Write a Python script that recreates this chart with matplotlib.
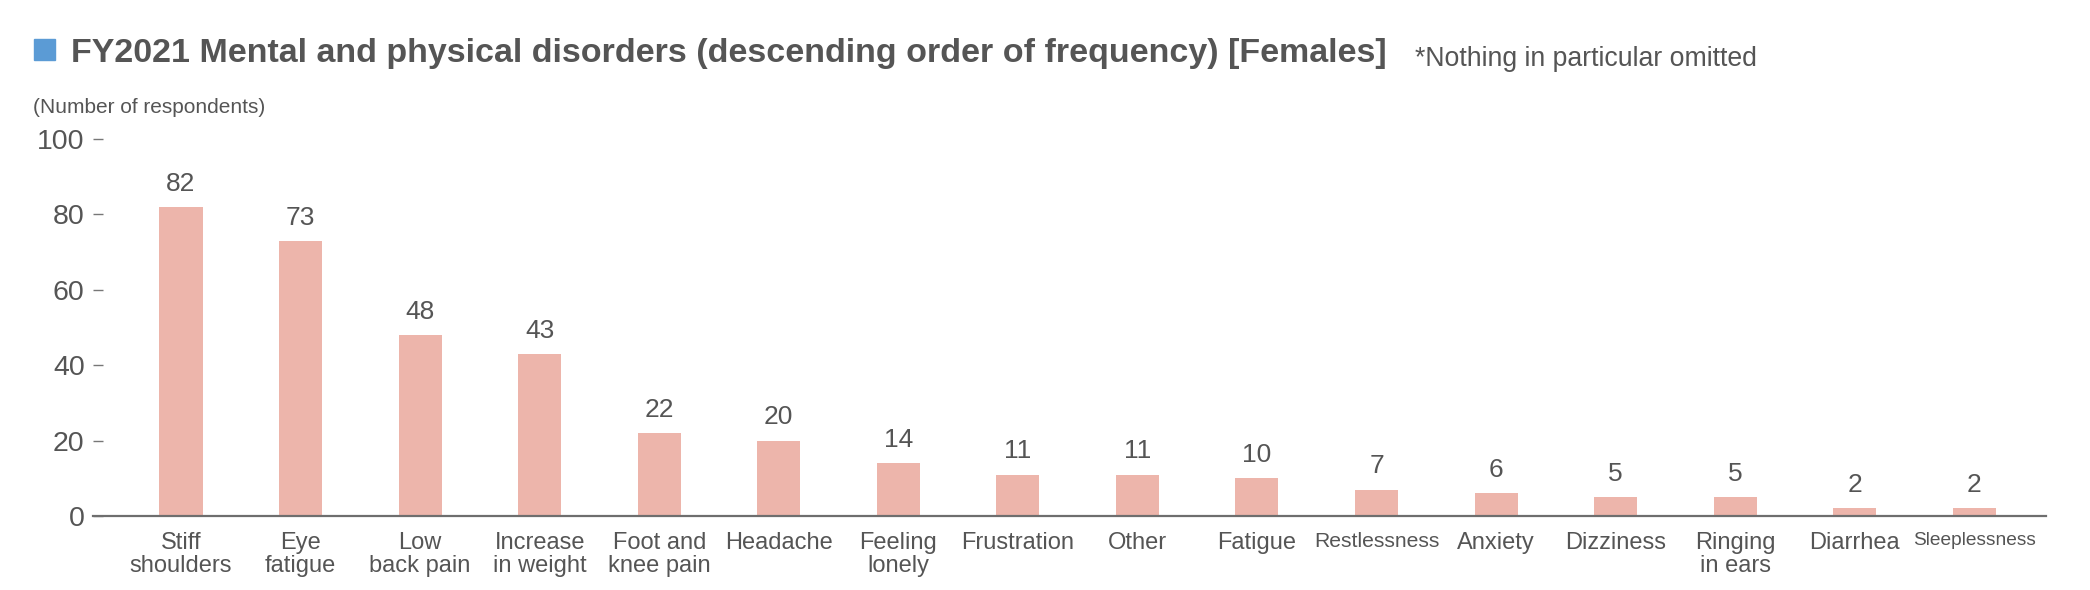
import matplotlib.pyplot as plt
from matplotlib.patches import Rectangle

categories = ["Stiff\nshoulders", "Eye\nfatigue", "Low\nback pain", "Increase\nin weight",
              "Foot and\nknee pain", "Headache", "Feeling\nlonely", "Frustration", "Other",
              "Fatigue", "Restlessness", "Anxiety", "Dizziness", "Ringing\nin ears",
              "Diarrhea", "Sleeplessness"]
counts = [82, 73, 48, 43, 22, 20, 14, 11, 11, 10, 7, 6, 5, 5, 2, 2]
yticks = [0, 20, 40, 60, 80, 100]
# long labels squeezed to fit in the original
narrowSizes = {"Restlessness": 15.2, "Sleeplessness": 13.8}

textColor = "#555555"
barColor = "#edb5ab"
plt.rcParams['font.family'] = ['Liberation Sans', 'DejaVu Sans']

fig = plt.figure(figsize=(20.9, 5.9), dpi=100)
ax = fig.add_axes([93/2090, 74/590, 1953/2090, 377/590])

x = list(range(len(counts)))
ax.bar(x, counts, width=0.36, color=barColor, zorder=2)
for xi, c in zip(x, counts):
    ax.annotate(str(c), (xi, c), xytext=(0, 8), textcoords="offset points",
                ha="center", va="bottom", fontsize=19, color=textColor)

ax.set_xlim(-0.736, 15.6)
ax.set_ylim(0, 100)
ax.set_yticks(yticks)
ax.set_xticks(x)
ax.set_xticklabels(categories, fontsize=17, color=textColor, linespacing=1.08)
for lbl in ax.get_xticklabels():
    if lbl.get_text() in narrowSizes:
        lbl.set_family(['Liberation Sans Narrow', 'Liberation Sans'])
        lbl.set_fontsize(narrowSizes[lbl.get_text()])
ax.tick_params(axis="x", length=0, pad=11.5)
ax.tick_params(axis="y", direction="in", length=7.2, width=1, color="#777777",
               labelsize=20.5, labelcolor=textColor, pad=6)
for s in ["top", "right", "left"]:
    ax.spines[s].set_visible(False)
ax.spines["bottom"].set_color("#6e6e6e")
ax.spines["bottom"].set_linewidth(1.6)

# title and notes
fig.patches.append(Rectangle((34/2090, 1 - 60/590), 21/2090, 21/590,
                             transform=fig.transFigure, color="#5b9bd5"))
fig.text(71/2090, 1 - 62/590, "FY2021 Mental and physical disorders (descending order of frequency) [Females]",
         fontsize=24.5, fontweight="bold", color="#555555", va="baseline")
fig.text(1415/2090, 1 - 66/590, "*Nothing in particular omitted",
         fontsize=19.2, color=textColor, va="baseline")
fig.text(33/2090, 1 - 113/590, "(Number of respondents)",
         fontsize=15, color=textColor, va="baseline",
         family=['Liberation Sans Narrow', 'Liberation Sans'])

fig.savefig("out.png", dpi=100)
